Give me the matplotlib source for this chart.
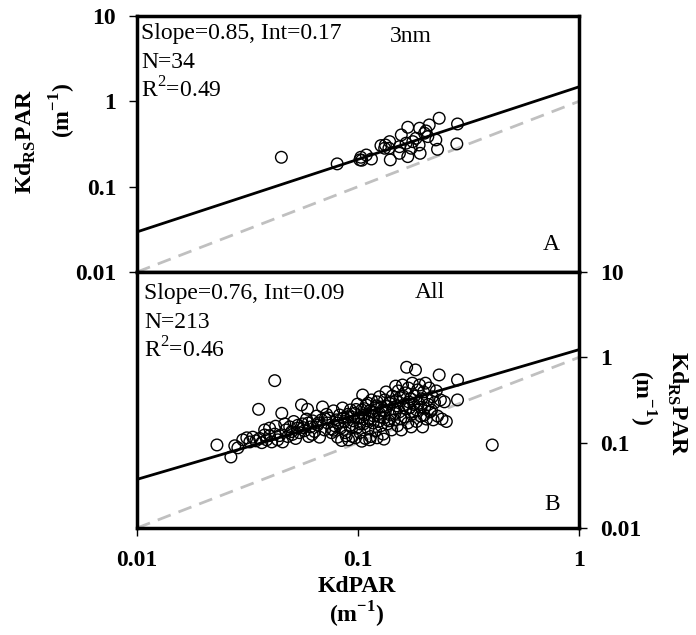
import numpy as np
import matplotlib.pyplot as plt
from matplotlib.ticker import FixedLocator, FixedFormatter, NullLocator

plt.rcParams['font.family'] = 'Liberation Serif'
plt.rcParams['mathtext.fontset'] = 'custom'
plt.rcParams['mathtext.rm'] = 'Liberation Serif'
plt.rcParams['mathtext.bf'] = 'Liberation Serif:bold'

# panel A (3nm)
a_x = [0.045, 0.0805, 0.103, 0.104, 0.109, 0.115, 0.127, 0.133, 0.139, 0.138,
       0.140, 0.154, 0.157, 0.168, 0.165, 0.168, 0.174, 0.183, 0.190, 0.189,
       0.191, 0.200, 0.203, 0.210, 0.207, 0.225, 0.229, 0.233, 0.282, 0.280,
       0.132, 0.177, 0.102, 0.154]
a_y = [0.221, 0.185, 0.221, 0.204, 0.235, 0.211, 0.303, 0.308, 0.337, 0.282,
       0.206, 0.294, 0.404, 0.497, 0.323, 0.225, 0.282, 0.369, 0.484, 0.308,
       0.246, 0.423, 0.450, 0.529, 0.386, 0.353, 0.274, 0.634, 0.543, 0.317,
       0.282, 0.337, 0.206, 0.246]
a_slope, a_int = 0.85, 0.17

# panel B (All)
b_x = [0.0230, 0.0266, 0.0277, 0.0286, 0.0301, 0.0314, 0.0324, 0.0334, 0.0345, 0.0355,
       0.0359, 0.0367, 0.0378, 0.0386, 0.0398, 0.0407, 0.0420, 0.0420, 0.0433, 0.0442,
       0.0452, 0.0456, 0.0466, 0.0471, 0.0481, 0.0491, 0.0501, 0.0512, 0.0522, 0.0533,
       0.0544, 0.0555, 0.0561, 0.0573, 0.0585, 0.0591, 0.0598, 0.0610, 0.0623, 0.0636,
       0.0650, 0.0656, 0.0670, 0.0684, 0.0691, 0.0706, 0.0721, 0.0728, 0.0743, 0.0759,
       0.0775, 0.0783, 0.0800, 0.0808, 0.0825, 0.0834, 0.0851, 0.0869, 0.0878, 0.0896,
       0.0915, 0.0925, 0.0944, 0.0954, 0.0964, 0.0984, 0.0995, 0.101, 0.102, 0.104,
       0.105, 0.106, 0.107, 0.108, 0.109, 0.111, 0.112, 0.113, 0.114, 0.115,
       0.117, 0.118, 0.119, 0.120, 0.122, 0.124, 0.125, 0.125, 0.127, 0.128,
       0.130, 0.131, 0.132, 0.133, 0.134, 0.136, 0.139, 0.140, 0.142, 0.143,
       0.145, 0.146, 0.148, 0.149, 0.151, 0.152, 0.154, 0.155, 0.157, 0.159,
       0.161, 0.162, 0.164, 0.166, 0.168, 0.169, 0.171, 0.173, 0.174, 0.176,
       0.178, 0.180, 0.182, 0.184, 0.186, 0.188, 0.190, 0.192, 0.194, 0.196,
       0.198, 0.200, 0.202, 0.204, 0.206, 0.210, 0.212, 0.217, 0.219, 0.222,
       0.226, 0.229, 0.233, 0.236, 0.240, 0.246, 0.251, 0.282, 0.282, 0.405,
       0.0843, 0.0906, 0.0974, 0.104, 0.113, 0.122, 0.131, 0.102, 0.0398, 0.0424,
       0.0378,
       0.062, 0.066, 0.071, 0.076, 0.081, 0.086, 0.090, 0.094, 0.098, 0.103,
       0.107, 0.110, 0.116, 0.121, 0.126, 0.129, 0.135, 0.138, 0.141, 0.147,
       0.150, 0.156, 0.160, 0.165, 0.170, 0.175, 0.179, 0.185, 0.193, 0.199,
       0.208, 0.215, 0.0505, 0.0535, 0.0565, 0.0595, 0.0775, 0.0885, 0.0935, 0.111]
b_y = [0.094, 0.068, 0.092, 0.087, 0.108, 0.114, 0.102, 0.116, 0.105, 0.246,
       0.112, 0.100, 0.123, 0.108, 0.121, 0.102, 0.533, 0.126, 0.108, 0.121,
       0.221, 0.102, 0.166, 0.141, 0.118, 0.153, 0.135, 0.177, 0.112, 0.148,
       0.131, 0.277, 0.166, 0.138, 0.189, 0.246, 0.118, 0.153, 0.180, 0.135,
       0.205, 0.161, 0.116, 0.185, 0.262, 0.141, 0.215, 0.170, 0.194, 0.131,
       0.236, 0.158, 0.185, 0.116, 0.211, 0.148, 0.255, 0.177, 0.131, 0.201,
       0.158, 0.242, 0.118, 0.180, 0.221, 0.148, 0.283, 0.194, 0.131, 0.242,
       0.362, 0.166, 0.211, 0.112, 0.277, 0.145, 0.189, 0.236, 0.118, 0.317,
       0.170, 0.205, 0.255, 0.138, 0.301, 0.177, 0.221, 0.345, 0.158, 0.262,
       0.126, 0.194, 0.317, 0.236, 0.393, 0.166, 0.289, 0.211, 0.141, 0.352,
       0.249, 0.185, 0.460, 0.311, 0.158, 0.404, 0.230, 0.337, 0.141, 0.474,
       0.277, 0.201, 0.383, 0.765, 0.170, 0.437, 0.255, 0.327, 0.153, 0.498,
       0.230, 0.352, 0.712, 0.177, 0.415, 0.289, 0.474, 0.205, 0.327, 0.153,
       0.393, 0.255, 0.498, 0.189, 0.317, 0.437, 0.230, 0.345, 0.185, 0.295,
       0.404, 0.205, 0.622, 0.317, 0.189, 0.301, 0.177, 0.543, 0.317, 0.094,
       0.106, 0.108, 0.114, 0.104, 0.108, 0.114, 0.110, 0.166, 0.148, 0.156,
       0.141,
       0.125, 0.170, 0.190, 0.145, 0.170, 0.195, 0.215, 0.150, 0.245, 0.200,
       0.250, 0.180, 0.230, 0.270, 0.200, 0.240, 0.265, 0.180, 0.300, 0.220,
       0.270, 0.190, 0.350, 0.250, 0.300, 0.215, 0.280, 0.240, 0.260, 0.210,
       0.280, 0.240, 0.125, 0.160, 0.150, 0.170, 0.140, 0.120, 0.200, 0.290]
b_slope, b_int = 0.76, 0.09

fit_x = np.array([0.01, 1.0])
one_to_one = [0.01, 1.0]
y_ticks = [0.01, 0.1, 1, 10]
y_tick_labels = ['0.01', '0.1', '1', '10']
x_ticks = [0.01, 0.1, 1]
x_tick_labels = ['0.01', '0.1', '1']

W, H = 696, 635
fig = plt.figure(figsize=(W / 100, H / 100), dpi=100)
L, R = 137 / W, 579 / W
axA = fig.add_axes([L, 1 - 272 / H, R - L, 256 / H])
axB = fig.add_axes([L, 1 - 528 / H, R - L, 256 / H])

tick_font = dict(family='Liberation Serif', weight='bold', size=17)

for ax, xs, ys, sl, ic in [(axA, a_x, a_y, a_slope, a_int), (axB, b_x, b_y, b_slope, b_int)]:
    ax.set_xscale('log')
    ax.set_yscale('log')
    ax.set_xlim(0.01, 1)
    ax.set_ylim(0.01, 10)
    ax.plot(one_to_one, one_to_one, color='#c0c0c0', lw=2, ls=(0, (5, 3)), zorder=1)
    ax.plot(fit_x, 10 ** ic * fit_x ** sl, color='black', lw=2, zorder=2)
    ax.scatter(xs, ys, s=70, facecolors='none', edgecolors='black', linewidths=1.0, zorder=3)
    for sp in ax.spines.values():
        sp.set_linewidth(2.5)
    ax.xaxis.set_minor_locator(NullLocator())
    ax.yaxis.set_minor_locator(NullLocator())
    ax.yaxis.set_major_locator(FixedLocator(y_ticks))
    ax.yaxis.set_major_formatter(FixedFormatter(y_tick_labels))
    ax.tick_params(axis='both', direction='out', length=6, width=1, pad=9)
    for lab in ax.get_yticklabels():
        lab.set_fontproperties(tick_font)

# panel A: ticks on the left, no x ticks
axA.xaxis.set_major_locator(NullLocator())
axA.yaxis.tick_left()

# panel B: y ticks on the right, x ticks at bottom
axB.yaxis.tick_right()
axB.xaxis.set_major_locator(FixedLocator(x_ticks))
axB.xaxis.set_major_formatter(FixedFormatter(x_tick_labels))
axB.tick_params(axis='x', pad=10)
for lab in axB.get_xticklabels() + axB.get_yticklabels():
    lab.set_fontproperties(tick_font)


def ftxt(px, py, s, **kw):
    fig.text(px / W, 1 - py / H, s, **kw)


note = dict(size=17, va='center', ha='left')
ftxt(141, 33, 'Slope=0.85, Int=0.17', **note)
ftxt(141, 62, 'N=34', **note)
ftxt(141, 90, 'R$^{2}$=0.49', **note)
ftxt(411, 37, '3nm', size=17, ha='center', va='center')
ftxt(551, 245, 'A', size=17, ha='center', va='center')

ftxt(144, 294, 'Slope=0.76, Int=0.09', **note)
ftxt(144, 322, 'N=213', **note)
ftxt(144, 350, 'R$^{2}$=0.46', **note)
ftxt(430, 293, 'All', size=17, ha='center', va='center')
ftxt(552, 505, 'B', size=17, ha='center', va='center')

lab = dict(size=17, weight='bold', ha='center', va='center')
ftxt(26, 142, r'Kd$_{\mathbf{RS}}$PAR', rotation=90, **lab)
ftxt(63, 110, r'(m$^{\mathbf{-1}}$)', rotation=90, **lab)
ftxt(677, 403, r'Kd$_{\mathbf{RS}}$PAR', rotation=270, **lab)
ftxt(642, 398, r'(m$^{\mathbf{-1}}$)', rotation=270, **lab)
ftxt(357, 586, 'KdPAR', **lab)
ftxt(357, 615, r'(m$^{\mathbf{-1}}$)', **lab)

fig.savefig('out.png', dpi=100)
